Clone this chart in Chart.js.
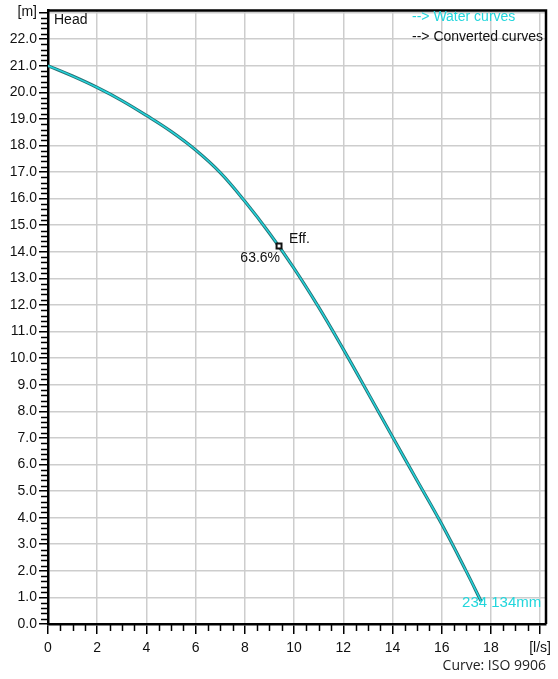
<!DOCTYPE html>
<html>
<head>
<meta charset="utf-8">
<title>Head curve</title>
<script src="https://cdn.jsdelivr.net/npm/chart.js@4/dist/chart.umd.min.js"></script>
<style>
    html, body { margin: 0; padding: 0; background: #fff; }
    #wrap { position: relative; width: 558px; height: 679px; }
</style>
</head>
<body>
<div id="wrap"><canvas id="headChart" width="558" height="679"></canvas></div>
<script>
// Данные кривой
const flowValues = [0, 1, 2, 3, 4, 5, 6, 7, 8, 9, 10, 11, 12, 13, 14, 15, 16, 17, 17.6];
const headValues = [21.0, 20.61, 20.18, 19.69, 19.13, 18.53, 17.83, 16.98, 15.9, 14.7, 13.38, 11.92, 10.34, 8.7, 7.04, 5.4, 3.76, 1.98, 0.86];

// Рабочая точка КПД
const effPoint = { x: 9.39, y: 14.22 };
const effLabel = '63.6%';
const impellerLabel = '234 134mm';

// Подписи осей
const xTickValues = [0, 2, 4, 6, 8, 10, 12, 14, 16, 18, 20];
const yTickValues = [0, 1, 2, 3, 4, 5, 6, 7, 8, 9, 10, 11, 12, 13, 14, 15, 16, 17, 18, 19, 20, 21, 22, 23];
const xUnitLabel = '[l/s]';
const yUnitLabel = '[m]';

const FONT = '"Liberation Sans", Arial, sans-serif';
const CYAN = '#22d6dc';

const curvePoints = flowValues.map((x, i) => ({ x: x, y: headValues[i] }));

// Мелкие засечки, рамка и подписи
const decorPlugin = {
    id: 'decor',
    afterDraw(chart) {
        const ctx = chart.ctx;
        const area = chart.chartArea;
        const xs = chart.scales.x;
        const ys = chart.scales.y;

        ctx.save();
        ctx.strokeStyle = '#000';
        ctx.lineWidth = 1.5;

        // минорные засечки по Y (шаг 0.2)
        for (let i = 0; i <= 23 * 5; i++) {
            if (i % 5 === 0) continue;
            const py = Math.round(ys.getPixelForValue(i / 5)) + 0.5;
            ctx.beginPath();
            ctx.moveTo(area.left - 7, py);
            ctx.lineTo(area.left, py);
            ctx.stroke();
        }
        // минорные засечки по X (шаг 0.5)
        for (let i = 0; i <= 40; i++) {
            if (i % 4 === 0) continue;
            const px = Math.round(xs.getPixelForValue(i / 2)) + 0.5;
            ctx.beginPath();
            ctx.moveTo(px, area.bottom);
            ctx.lineTo(px, area.bottom + 7);
            ctx.stroke();
        }

        // рамка сверху и справа
        ctx.lineWidth = 2.5;
        ctx.beginPath();
        ctx.moveTo(area.left, area.top);
        ctx.lineTo(area.right, area.top);
        ctx.lineTo(area.right, area.bottom);
        ctx.stroke();

        // тексты
        ctx.textBaseline = 'middle';
        ctx.font = '14px ' + FONT;
        ctx.fillStyle = '#111';
        ctx.textAlign = 'left';
        ctx.fillText('Head', area.left + 6, 20);

        ctx.font = '14px ' + FONT;
        ctx.fillStyle = CYAN;
        ctx.fillText('--> Water curves', 412, 17);
        ctx.fillStyle = '#111';
        ctx.fillText('--> Converted curves', 412, 37);

        const ex = xs.getPixelForValue(effPoint.x);
        const ey = ys.getPixelForValue(effPoint.y);
        ctx.font = '14px ' + FONT;
        ctx.textAlign = 'left';
        ctx.fillText('Eff.', ex + 10, ey - 7);
        ctx.textAlign = 'right';
        ctx.fillText(effLabel, ex + 1, ey + 12);

        const last = curvePoints[curvePoints.length - 1];
        ctx.fillStyle = CYAN;
        ctx.textAlign = 'left';
        ctx.font = '15px ' + FONT;
        ctx.fillText(impellerLabel, xs.getPixelForValue(last.x) - 19, ys.getPixelForValue(last.y) + 2);

        ctx.fillStyle = '#222';
        ctx.textAlign = 'right';
        ctx.font = '14px "Open Sans", "DejaVu Sans", sans-serif';
        ctx.fillText('Curve: ISO 9906', 546, 666);
        ctx.restore();
    }
};

function renderChart() {
    const ctx = document.getElementById('headChart');

    const data = {
        datasets: [
            {
                label: 'Eff',
                data: [effPoint],
                type: 'scatter',
                pointStyle: 'rect',
                pointRadius: 3.5,
                borderWidth: 2,
                borderColor: '#111',
                backgroundColor: '#fff',
                order: 0
            },
            {
                label: 'Water curve',
                data: curvePoints,
                borderColor: CYAN,
                borderWidth: 1.4,
                pointRadius: 0,
                tension: 0.4,
                order: 1
            },
            {
                label: 'Outline',
                data: curvePoints,
                borderColor: '#2a7276',
                borderWidth: 3.2,
                pointRadius: 0,
                tension: 0.4,
                order: 2
            }
        ]
    };

    const options = {
        responsive: false,
        animation: false,
        layout: { padding: { top: 7, right: 12, left: 0, bottom: 0 } },
        plugins: {
            legend: { display: false },
            tooltip: { enabled: false }
        },
        scales: {
            x: {
                type: 'linear',
                min: 0,
                max: 20.24,
                afterBuildTicks: scale => { scale.ticks = xTickValues.map(v => ({ value: v })); },
                afterFit: scale => { scale.height = 55; },
                border: { color: '#000', width: 2.5 },
                grid: { color: '#cdcdcd', lineWidth: 1.5, tickColor: '#000', tickLength: 10, tickWidth: 1.5 },
                ticks: {
                    color: '#111',
                    font: { family: FONT, size: 14 },
                    padding: 6,
                    maxRotation: 0,
                    autoSkip: false,
                    callback: v => (v === 20 ? xUnitLabel : String(v))
                }
            },
            y: {
                type: 'linear',
                min: 0,
                max: 23.08,
                afterBuildTicks: scale => { scale.ticks = yTickValues.map(v => ({ value: v })); },
                afterFit: scale => { scale.width = 48; },
                border: { color: '#000', width: 2.5 },
                grid: { color: '#cdcdcd', lineWidth: 1.5, tickColor: '#000', tickLength: 9, tickWidth: 1.5 },
                ticks: {
                    color: '#111',
                    font: { family: FONT, size: 14 },
                    padding: 2,
                    autoSkip: false,
                    callback: v => (v === 23 ? yUnitLabel : v.toFixed(1))
                }
            }
        }
    };

    new Chart(ctx, {
        type: 'line',
        data: data,
        options: options,
        plugins: [decorPlugin]
    });
}

document.addEventListener('DOMContentLoaded', renderChart);
</script>
</body>
</html>
